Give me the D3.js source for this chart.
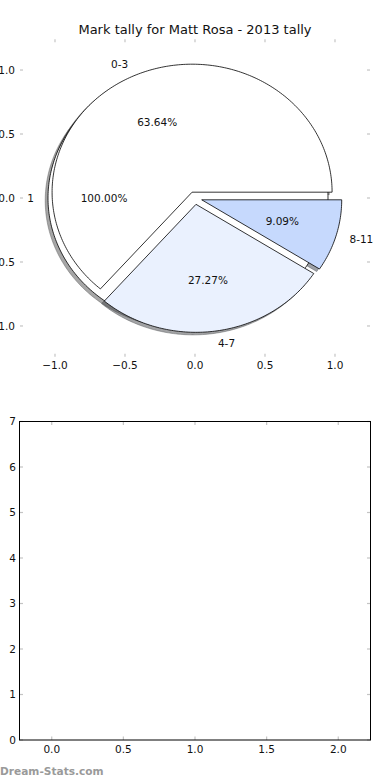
<!DOCTYPE html>
<html><head><meta charset="utf-8">
<script src="https://cdn.jsdelivr.net/npm/d3@7"></script>
<style>body{margin:0;background:#fff}svg{display:block}text{font-family:"DejaVu Sans",sans-serif}</style>
</head><body>
<script>
// ---- data ----
const title = "Mark tally for Matt Rosa - 2013 tally";
const pieCategories = ["0-3", "4-7", "8-11"];
const pieValues = [7, 3, 1];
const pieColors = ["#ffffff", "#eaf1fe", "#c6d9fd"];
const totalCategories = ["1"];
const totalValues = [1];
const pieXTicks = [-1.0, -0.5, 0.0, 0.5, 1.0];
const pieYTicks = [1.0, 0.5, 0.0, -0.5, -1.0];
const barXTicks = [0.0, 0.5, 1.0, 1.5, 2.0];
const barYTicks = [0, 1, 2, 3, 4, 5, 6, 7];
const explode = 0.05;
const watermark = "Dream-Stats.com";

const W = 390, H = 780;
const svg = d3.select("body").append("svg").attr("width", W).attr("height", H);
const fmtTick = v => (v < 0 ? "\u2212" : "") + Math.abs(v).toFixed(1);
const tickColor = "#c4c4c4";

// ---- title ----
svg.append("text").attr("x", 195).attr("y", 34).attr("text-anchor", "middle")
  .attr("font-size", 13).attr("fill", "#111").text(title);

// ---- top (pie) axes ----
const xT = d3.scaleLinear().domain([-1.25, 1.25]).range([20, 370]);
const yT = d3.scaleLinear().domain([-1.24, 1.24]).range([356.7, 39.3]);
const topG = svg.append("g");

function wedgePath(cx, cy, a1, a2, full) {
  const pts = [];
  const n = Math.max(8, Math.ceil(Math.abs(a2 - a1) / 1));
  if (!full) pts.push([cx, cy]);
  for (let i = 0; i <= n; i++) {
    const a = (a1 + (a2 - a1) * i / n) * Math.PI / 180;
    pts.push([cx + Math.cos(a), cy + Math.sin(a)]);
  }
  return d3.line().x(p => xT(p[0])).y(p => yT(p[1]))(pts) + "Z";
}

function pieLayout(values, cats, colors) {
  const total = d3.sum(values);
  let start = 0;
  return values.map((v, i) => {
    const sweep = 360 * v / total;
    const a1 = start, a2 = start + sweep;
    start = a2;
    const mid = (a1 + a2) / 2 * Math.PI / 180;
    const cx = explode * Math.cos(mid), cy = explode * Math.sin(mid);
    return { cat: cats[i], v, pct: 100 * v / total, a1, a2, mid, cx, cy,
             color: colors ? colors[i] : "#ffffff", full: sweep >= 359.999 };
  });
}
const totalPie = pieLayout(totalValues, totalCategories, null);
const mainPie = pieLayout(pieValues, pieCategories, pieColors);
const allWedges = totalPie.concat(mainPie);

// shadows (drawn under all wedges)
const sh = { dx: -0.02, dy: -0.02 };
const shadeOf = d => { const c = d3.rgb(d.color); return d3.rgb(c.r * 0.3, c.g * 0.3, c.b * 0.3).toString(); };
topG.selectAll("path.shadow").data(allWedges).join("path").attr("class", "shadow")
  .attr("d", d => wedgePath(d.cx + sh.dx, d.cy + sh.dy, d.a1, d.a2, d.full))
  .attr("fill", shadeOf).attr("fill-opacity", 0.5)
  .attr("stroke", shadeOf).attr("stroke-opacity", 0.5).attr("stroke-width", 0.8);

// wedges
topG.selectAll("path.wedge").data(allWedges).join("path").attr("class", "wedge")
  .attr("d", d => wedgePath(d.cx, d.cy, d.a1, d.a2, d.full))
  .attr("fill", d => d.color).attr("stroke", "#000").attr("stroke-width", 0.8)
  .attr("stroke-linejoin", "miter");

// labels
allWedges.forEach(d => {
  const lx = d.cx + 1.1 * Math.cos(d.mid), ly = d.cy + 1.1 * Math.sin(d.mid);
  topG.append("text").attr("x", xT(lx)).attr("y", yT(ly)).attr("dy", "0.35em")
    .attr("text-anchor", lx > 0 ? "start" : "end").attr("font-size", 10.5).attr("fill", "#111")
    .text(d.cat);
  const px = d.cx + 0.6 * Math.cos(d.mid), py = d.cy + 0.6 * Math.sin(d.mid);
  topG.append("text").attr("x", xT(px)).attr("y", yT(py)).attr("dy", "0.35em")
    .attr("text-anchor", "middle").attr("font-size", 10.5).attr("fill", "#111")
    .text(d.pct.toFixed(2) + "%");
});

// ticks for top axes (no spines)
const [tx0, tx1] = xT.range();
const ty0 = yT.range()[1], ty1 = yT.range()[0];
pieXTicks.forEach(v => {
  const x = xT(v);
  topG.append("line").attr("x1", x).attr("x2", x).attr("y1", ty0).attr("y2", ty0 + 3).attr("stroke", tickColor).attr("stroke-width", 1.2);
  topG.append("line").attr("x1", x).attr("x2", x).attr("y1", ty1).attr("y2", ty1 - 3).attr("stroke", tickColor).attr("stroke-width", 1.2);
  topG.append("text").attr("x", x).attr("y", 368.5).attr("text-anchor", "middle")
    .attr("font-size", 10.5).attr("fill", "#111").text(fmtTick(v));
});
pieYTicks.forEach(v => {
  const y = yT(v);
  topG.append("line").attr("x1", tx0).attr("x2", tx0 + 3).attr("y1", y).attr("y2", y).attr("stroke", tickColor).attr("stroke-width", 1.2);
  topG.append("line").attr("x1", tx1).attr("x2", tx1 - 3).attr("y1", y).attr("y2", y).attr("stroke", tickColor).attr("stroke-width", 1.2);
  topG.append("text").attr("x", 15).attr("y", y).attr("dy", "0.35em").attr("text-anchor", "end")
    .attr("font-size", 10.5).attr("fill", "#111").text(fmtTick(v));
});

// ---- bottom (empty bar) axes ----
const xB = d3.scaleLinear().domain([-0.225, 2.225]).range([19.5, 370.5]);
const yB = d3.scaleLinear().domain([0, 7]).range([740, 421.5]);
const bot = svg.append("g");
barXTicks.forEach(v => {
  const x = xB(v);
  bot.append("line").attr("x1", x).attr("x2", x).attr("y1", yB(0)).attr("y2", yB(0) - 3.5).attr("stroke", tickColor).attr("stroke-width", 1.2);
  bot.append("line").attr("x1", x).attr("x2", x).attr("y1", yB(7)).attr("y2", yB(7) + 3.5).attr("stroke", tickColor).attr("stroke-width", 1.2);
  bot.append("text").attr("x", x).attr("y", 752.5).attr("text-anchor", "middle")
    .attr("font-size", 10.5).attr("fill", "#111").text(fmtTick(v));
});
barYTicks.forEach(v => {
  const y = yB(v);
  bot.append("line").attr("x1", xB.range()[0]).attr("x2", xB.range()[0] + 3.5).attr("y1", y).attr("y2", y).attr("stroke", tickColor).attr("stroke-width", 1.2);
  bot.append("line").attr("x1", xB.range()[1]).attr("x2", xB.range()[1] - 3.5).attr("y1", y).attr("y2", y).attr("stroke", tickColor).attr("stroke-width", 1.2);
  bot.append("text").attr("x", 16).attr("y", y).attr("dy", "0.35em").attr("text-anchor", "end")
    .attr("font-size", 10.5).attr("fill", "#111").text(v);
});
bot.append("rect").attr("x", xB.range()[0]).attr("y", yB(7))
  .attr("width", xB.range()[1] - xB.range()[0]).attr("height", yB(0) - yB(7))
  .attr("fill", "none").attr("stroke", "#000").attr("stroke-width", 1);

// ---- watermark ----
svg.append("text").attr("x", 0).attr("y", 774.5).attr("font-size", 10.6).attr("font-weight", "bold")
  .attr("fill", "#9a9a9a").text(watermark);
</script>
</body></html>
